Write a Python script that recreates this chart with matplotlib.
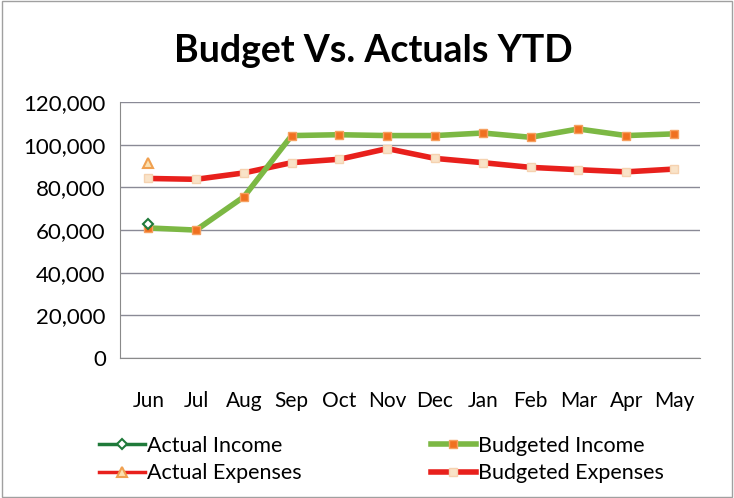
import matplotlib
matplotlib.use("Agg")
import matplotlib.pyplot as plt
import numpy as np

#* datos
months = ['Jun', 'Jul', 'Aug', 'Sep', 'Oct', 'Nov', 'Dec', 'Jan', 'Feb', 'Mar', 'Apr', 'May']
actual_income = [63000]
actual_expenses = [91500]
budgeted_income = [61000, 60000, 75600, 104300, 104700, 104300, 104300, 105500, 103500, 107400, 104300, 105100]
budgeted_expenses = [84200, 83800, 86800, 91600, 93200, 98200, 93600, 91600, 89400, 88300, 87300, 88600]
yticks = [0, 20000, 40000, 60000, 80000, 100000, 120000]

plt.rcParams['font.family'] = ['Lato', 'DejaVu Sans']

fig = plt.figure(figsize=(7.34, 4.98), dpi=100)
ax = fig.add_axes([0.163, 0.281, 0.791, 0.514])

x = np.arange(len(months))
l_ai, = ax.plot(x[:1], actual_income, color='#1f7a3a', lw=2.5, marker='D', ms=5,
                mfc='white', mec='#1f7a3a', mew=1.5, label='Actual Income', zorder=5)
l_bi, = ax.plot(x, budgeted_income, color='#7cb844', lw=4, marker='s', ms=6,
                mfc='#f07020', mec='#f6a060', mew=1, label='Budgeted Income', zorder=4)
l_ae, = ax.plot(x[:1], actual_expenses, color='#e8201c', lw=2.5, marker='^', ms=7,
                mfc='#fbe0b0', mec='#f0a050', mew=1.5, label='Actual Expenses', zorder=5)
l_be, = ax.plot(x, budgeted_expenses, color='#e8201c', lw=4, marker='s', ms=6,
                mfc='#f9e3c8', mec='#f5d2b0', mew=1, label='Budgeted Expenses', zorder=3)

ax.set_xlim(-0.6, len(months) - 0.45)
ax.set_ylim(0, 120000)
ax.set_xticks(x)
ax.set_xticklabels(months, fontsize=15)
ax.set_yticks(yticks)
ax.set_yticklabels([f'{v:,}' for v in yticks], fontsize=16)
ax.tick_params(axis='y', length=0, pad=10)
ax.tick_params(axis='x', length=0, pad=24)
ax.yaxis.grid(True, color='#8a8a96', lw=1)
ax.set_axisbelow(True)
for s in ['top', 'right']:
    ax.spines[s].set_visible(False)
ax.spines['left'].set_color('#8a8a8a')
ax.spines['bottom'].set_color('#8a8a8a')

fig.text(0.508, 0.897, 'Budget Vs. Actuals YTD', ha='center', va='center',
         fontsize=27, fontweight='bold')

# orden por columnas: actuales a la izquierda, presupuestados a la derecha
fig.legend([l_ai, l_ae, l_bi, l_be],
           ['Actual Income', 'Actual Expenses', 'Budgeted Income', 'Budgeted Expenses'],
           loc='center', bbox_to_anchor=(0.52, 0.077), ncol=2,
           frameon=False, fontsize=15.5, handlelength=2.1, handletextpad=0.1,
           columnspacing=6.0, labelspacing=0.35)

fig.patches.append(plt.Rectangle((0.003, 0.003), 0.994, 0.994, transform=fig.transFigure,
                                 fill=False, edgecolor='#a0a0a0', lw=1))

fig.savefig('out.png', dpi=100)
